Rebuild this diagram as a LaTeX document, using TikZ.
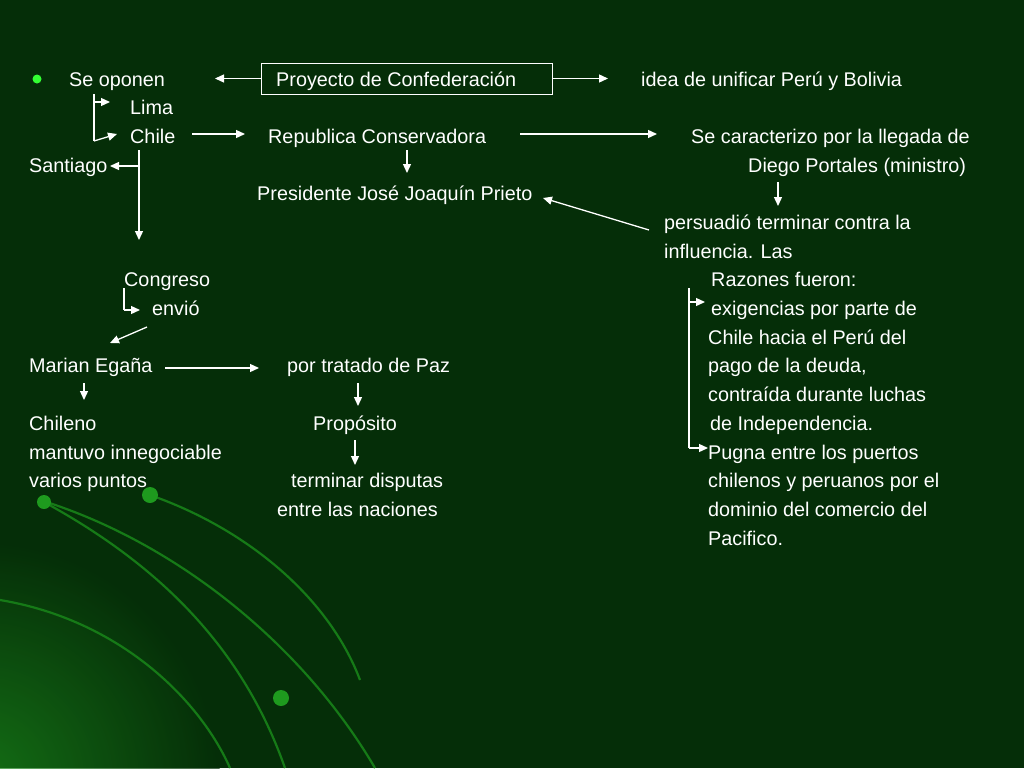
\documentclass[tikz,border=0pt]{standalone}
\usepackage{fontspec}
\setmainfont{Liberation Sans}
\usetikzlibrary{arrows.meta}
\definecolor{bg}{HTML}{052E08}
\definecolor{glow}{HTML}{1E9A1E}
\begin{document}
\begin{tikzpicture}[x=1pt,y=-1pt,
  t/.style={anchor=base west,inner sep=0pt,text=white,font=\fontsize{19.8}{21}\selectfont},
  ar/.style={draw=white,line width=1.3pt,-{Triangle[width=8pt,length=9pt]}},
  ln/.style={draw=white,line width=1.3pt},
  deco/.style={draw=glow!70!bg,line width=2.2pt}]
\useasboundingbox (0,0) rectangle (1024,768);
\fill[bg] (0,0) rectangle (1024,768);
\shade[inner color=glow!90!black,outer color=bg,opacity=0.7] (-20,780) circle (240pt);
\draw[deco] (40,500) .. controls (170,540) and (300,640) .. (375,768);
\draw[deco] (44,502) .. controls (150,560) and (240,640) .. (285,768);
\draw[deco] (0,600) .. controls (120,620) and (200,700) .. (230,768);
\draw[deco] (150,495) .. controls (250,530) and (330,600) .. (360,680);
\fill[glow] (44,502) circle (7pt) (150,495) circle (8pt) (281,698) circle (8pt);
% text
\fill[green!80!white] (37,79) circle (4.5pt);
\node[t] (seop) at (69,86) {Se oponen};
\node[draw=white,line width=0.9pt,minimum width=291pt,minimum height=31pt,inner sep=0pt] (proy) at (406.5,78.5) {};
\node[t] (proyt) at (276,86) {Proyecto de Confederación};
\node[t] (idea) at (641,86) {idea de unificar Perú y Bolivia};
\node[t] (lima) at (130,114.5) {Lima};
\node[t] (chile) at (130,143) {Chile};
\node[t] (rep) at (268,143) {Republica Conservadora};
\node[t] (secar) at (691,143) {Se caracterizo por la llegada de};
\node[t] (diego) at (748,172) {Diego Portales (ministro)};
\node[t] (sant) at (29,172) {Santiago};
\node[t] (pres) at (257,200) {Presidente José Joaquín Prieto};
\node[t] (pers) at (664,229) {persuadió terminar contra la};
\node[t] (infl) at (664,258) {influencia. Las};
\node[t] (cong) at (124,286) {Congreso};
\node[t] (envi) at (152,315) {envió};
\node[t] (raz) at (711,286) {Razones fueron:};
\node[t] (exig) at (711,315) {exigencias por parte de};
\node[t] (r10) at (708,344) {Chile hacia el Perú del};
\node[t] (r11) at (708,372) {pago de la deuda,};
\node[t] (r12) at (708,401) {contraída durante luchas};
\node[t] (r13) at (710,430) {de Independencia.};
\node[t] (pug) at (708,459) {Pugna entre los puertos};
\node[t] (r15) at (708,487) {chilenos y peruanos por el};
\node[t] (r16) at (708,516) {dominio del comercio del};
\node[t] (r17) at (708,545) {Pacifico.};
\node[t] (mar) at (29,372) {Marian Egaña};
\node[t] (trat) at (287,372) {por tratado de Paz};
\node[t] (chil2) at (29,430) {Chileno};
\node[t] (prop) at (313,430) {Propósito};
\node[t] (mant) at (29,459) {mantuvo innegociable};
\node[t] (vari) at (29,487) {varios puntos};
\node[t] (term) at (291,487) {terminar disputas};
\node[t] (entr) at (277,516) {entre las naciones};
% connectors
\coordinate (b1) at (94,94); \coordinate (b2) at (94,141);
\coordinate (c1) at (139,150); \coordinate (c2) at (139,166);
\coordinate (g1) at (124,288); \coordinate (g2) at (124,310);
\coordinate (k1) at (689,288); \coordinate (k2) at (689,302); \coordinate (k3) at (689,448);
\draw[ar] (proy.west) -- (215,78.5);
\draw[ar] (proy.east) -- (608,78.5);
\draw[ln] (b1) -- (b2);
\draw[ar] (94,102) -- (110,102);
\draw[ar] (b2) -- (117,134);
\draw[ar] (192,134) -- (245,134);
\draw[ar] (520,134) -- (657,134);
\draw[ar] (407,150) -- (407,173);
\draw[ar] (778,182) -- (778,206);
\draw[ar] (c1) -- (139,240);
\draw[ar] (c2) -- (110,166);
\draw[ar] (649,230) -- (543,198);
\draw[ln] (g1) -- (g2);
\draw[ar] (g2) -- (140,310);
\draw[ar] (147,327) -- (110,343);
\draw[ln] (k1) -- (k3);
\draw[ar] (k2) -- (705,302);
\draw[ar] (k3) -- (708,448);
\draw[ar] (165,368) -- (259,368);
\draw[ar] (358,383) -- (358,406);
\draw[ar] (84,383) -- (84,400);
\draw[ar] (355,440) -- (355,465);
\end{tikzpicture}
\end{document}
